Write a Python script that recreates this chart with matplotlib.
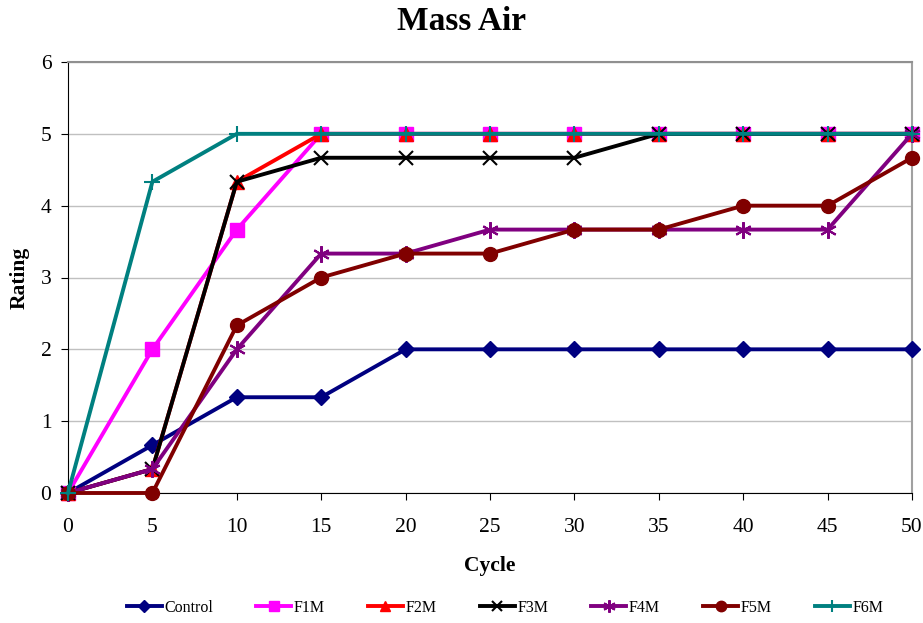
import matplotlib
matplotlib.use("Agg")
import matplotlib.pyplot as plt

plt.rcParams['font.family'] = ['Liberation Serif', 'DejaVu Serif']

cycles = [0, 5, 10, 15, 20, 25, 30, 35, 40, 45, 50]
control = [0, 0.667, 1.333, 1.333, 2, 2, 2, 2, 2, 2, 2]
f1m = [0, 2, 3.667, 5, 5, 5, 5, 5, 5, 5, 5]
f2m = [0, 0.333, 4.333, 5, 5, 5, 5, 5, 5, 5, 5]
f3m = [0, 0.333, 4.333, 4.667, 4.667, 4.667, 4.667, 5, 5, 5, 5]
f4m = [0, 0.333, 2, 3.333, 3.333, 3.667, 3.667, 3.667, 3.667, 3.667, 5]
f5m = [0, 0, 2.333, 3, 3.333, 3.333, 3.667, 3.667, 4, 4, 4.667]
f6m = [0, 4.333, 5, 5, 5, 5, 5, 5, 5, 5, 5]

series = [
    ("Control", control, "#000080", "D", 8),
    ("F1M", f1m, "#FF00FF", "s", 10),
    ("F2M", f2m, "#FF0000", "^", 10),
    ("F3M", f3m, "#000000", "x", 10),
    ("F4M", f4m, "#800080", (6, 2, 0), 12),
    ("F5M", f5m, "#800000", "o", 10),
    ("F6M", f6m, "#008080", "+", 12),
]

fig = plt.figure(figsize=(9.23, 6.23), dpi=100)
ax = fig.add_axes([68/923, 1-493/623, (912-68)/923, (493-62)/623])

for name, vals, col, mk, ms in series:
    ax.plot(cycles, vals, color=col, lw=2.8, marker=mk, markersize=ms,
            markeredgewidth=1.5 if mk in ("x", "+") or isinstance(mk, tuple) else 1,
            markerfacecolor=col, markeredgecolor=col, label=name, clip_on=False, zorder=3)

ax.set_xlim(0, 50)
ax.set_ylim(0, 6)
ax.set_xticks(range(0, 51, 5))
ax.set_yticks(range(0, 7))
ax.yaxis.grid(True, color="#c0c0c0", lw=1)
ax.set_axisbelow(True)
ax.spines["top"].set_color("#909090")
ax.spines["top"].set_linewidth(1.5)
ax.spines["right"].set_color("#a0a0a0")
ax.spines["right"].set_linewidth(1.5)
ax.spines["left"].set_color("black")
ax.spines["bottom"].set_color("black")
ax.tick_params(axis="both", labelsize=15.5, direction="out", length=5, color="black")
ax.tick_params(axis="x", pad=13)
ax.tick_params(axis="y", pad=7)

ax.set_xlabel("Cycle", fontsize=15.5, fontweight="bold", labelpad=14)
ax.set_ylabel("Rating", fontsize=15.5, fontweight="bold", labelpad=8)
fig.text(462/923, 1-21/623, "Mass Air", ha="center", va="center", fontsize=24, fontweight="bold")

fig.legend(loc="center", bbox_to_anchor=(505/923, 1-608/623), ncol=7, frameon=False,
           fontsize=11.5, handlelength=2.2, columnspacing=2.7, handletextpad=0.15, markerscale=0.75)

fig.savefig("out.png", dpi=100)
